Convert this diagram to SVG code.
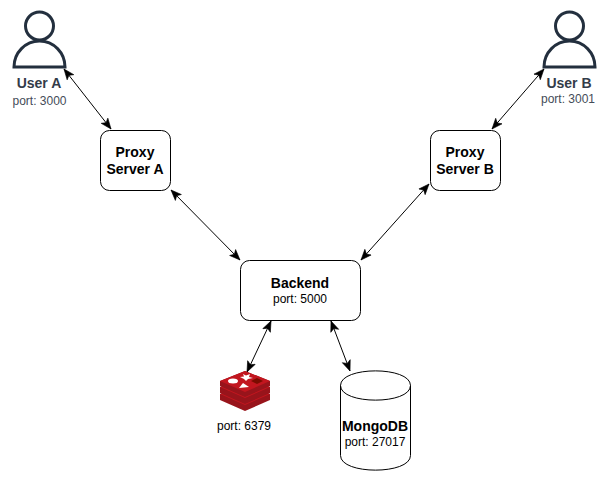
<svg xmlns="http://www.w3.org/2000/svg" width="608" height="481" viewBox="0 0 608 481">
<style>
text{font-family:"Liberation Sans",Arial,sans-serif;text-anchor:middle;font-size:12px;fill:#000}
.b{font-weight:bold;font-size:14px}
.s{fill:#fff;stroke:#000;stroke-width:1}
.u{fill:#fff;stroke:#232f3e;stroke-width:3}
.ut{fill:#333c49}
.up{fill:#444c58}
.c{fill:none;stroke:#000;stroke-width:1;marker-start:url(#a);marker-end:url(#a)}
.rs{fill:#98141b}
.rt{fill:#c2161f}
</style>
<defs>
<marker id="a" markerUnits="userSpaceOnUse" viewBox="0 0 12 10" refX="11" refY="5" markerWidth="12" markerHeight="10" orient="auto-start-reverse"><path d="M0.500 0.800L11 5L0.500 9.200L3 5Z" fill="#000" stroke="#000" stroke-width="0.6"/></marker>
</defs>
<rect width="608" height="481" fill="#fff"/>
<g id="connectors">
<path class="c" d="M64 69L111 129"/>
<path class="c" d="M544 69L492 129"/>
<path class="c" d="M171 190L240 260"/>
<path class="c" d="M429 184L361 260"/>
<path class="c" d="M271 321L247 372"/>
<path class="c" d="M331 321L350 371"/>
</g>
<g id="user-a">
<circle class="u" cx="39.500" cy="26" r="14"/>
<path class="u" d="M14 67A25.500 26 0 0 1 65 67Z"/>
<text class="b ut" x="39" y="88">User A</text>
<text class="up" x="39.500" y="105">port: 3000</text>
</g>
<g id="user-b">
<circle class="u" cx="569.500" cy="26" r="14"/>
<path class="u" d="M544 67A25.500 26 0 0 1 595 67Z"/>
<text class="b ut" x="569" y="88">User B</text>
<text class="up" x="568" y="103">port: 3001</text>
</g>
<g id="proxy-a">
<rect class="s" x="100.500" y="130.500" width="70" height="60" rx="9" ry="9"/>
<text class="b" x="135" y="157">Proxy</text>
<text class="b" x="135" y="174">Server A</text>
</g>
<g id="proxy-b">
<rect class="s" x="430.500" y="130.500" width="70" height="60" rx="9" ry="9"/>
<text class="b" x="465" y="157">Proxy</text>
<text class="b" x="465" y="174">Server B</text>
</g>
<g id="backend">
<rect class="s" x="240.500" y="260.500" width="120" height="60" rx="9" ry="9"/>
<text class="b" x="300" y="288">Backend</text>
<text x="300" y="303">port: 5000</text>
</g>
<g id="redis">
<path class="rs" d="M220 394V400L245 411L270 400V394L245 387Z"/>
<path class="rt" d="M220 394L245 384L270 394L245 405Z"/>
<path class="rs" d="M220 387V393L245 404L270 393V387L245 380Z"/>
<path class="rt" d="M220 387L245 377L270 387L245 398Z"/>
<path class="rs" d="M220 381V386L245 397L270 386V381L245 371Z"/>
<path class="rt" d="M220 381L245 371L270 381L245 392Z"/>
<ellipse cx="233" cy="381" rx="5" ry="2.500" fill="#fff"/>
<path fill="#fff" d="M243 374L246 375.500L250 374L249 377L253 378L248 379L246 381L244 379L240 377L244 376.500Z"/>
<path fill="#fff" d="M239 388L249 387L243 383Z"/>
<path fill="#7a0c00" d="M251 381L257 378L263 381L257 384Z"/>
<text x="244" y="430">port: 6379</text>
</g>
<g id="mongodb">
<path class="s" d="M340.500 385.500C340.500 366 410.500 366 410.500 385.500L410.500 455.500C410.500 475 340.500 475 340.500 455.500Z"/>
<path class="s" style="fill:none" d="M340.500 385.500C340.500 405 410.500 405 410.500 385.500"/>
<text class="b" x="375" y="431">MongoDB</text>
<text x="375" y="446">port: 27017</text>
</g>
</svg>
